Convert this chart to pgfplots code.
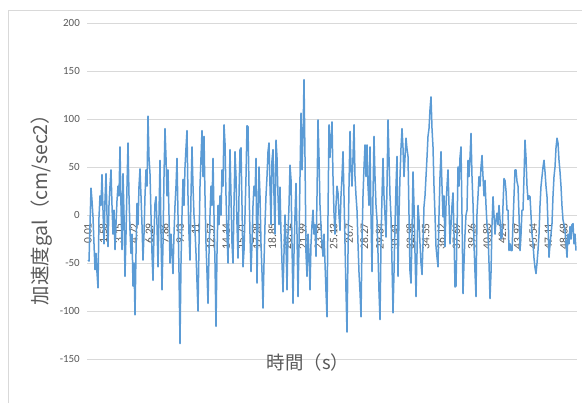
\documentclass[border=0pt]{standalone}
\usepackage{pgfplots}
\pgfplotsset{compat=1.18}
\usepackage{pgfplotstable}
\usepackage{fontspec}
\setmainfont{Carlito}
\newfontfamily\cjk{Noto Sans CJK JP}
\definecolor{exblue}{HTML}{5B9BD5}
\definecolor{lbl}{HTML}{595959}
\definecolor{grd}{HTML}{D9D9D9}
\pgfplotstableread{
y
-47
-48
-10
28
15
-2
-30
-57
-40
-60
-76
-2
20
10
42
5
-30
15
43
0
-33
10
30
47
10
-20
5
-36
-10
15
30
20
71
10
-36
43
0
-64
-20
30
75
20
-16
-40
-20
-74
-50
-104
-40
12
-10
30
48
20
-10
-47
-20
20
47
30
103
60
43
0
-40
-68
-20
12
19
-10
-54
0
57
-20
-78
-30
40
90
60
20
47
0
-50
-20
-40
-61
-20
10
30
59
0
-60
-134
-50
0
37
10
50
70
88
20
-20
-47
20
71
30
0
-16
-40
-70
-100
-30
30
60
88
40
82
20
-30
-60
-92
-40
0
30
10
59
0
-50
-116
-40
10
-10
20
0
47
30
94
75
20
-20
-50
10
68
20
-30
-50
10
66
40
-10
-45
20
68
70
10
-54
-37
0
40
93
92
30
-20
-59
-30
10
30
20
59
-71
0
50
20
-30
-60
-97
-50
-10
20
40
66
75
30
-10
57
68
20
-20
78
60
20
-10
29
-20
-50
-80
-40
0
-30
-78
-20
10
52
37
-30
-92
-40
0
33
-20
-85
-30
40
106
47
80
141
60
-40
-64
-20
-40
-78
-30
-10
5
-20
-10
-43
20
99
60
10
-12
-30
-43
-20
-50
-80
-106
0
94
60
80
97
40
2
-20
10
30
23
0
-16
20
40
66
20
-30
-80
-122
-40
30
87
50
30
60
94
40
20
5
-30
-60
-80
-106
-30
20
50
73
40
73
30
10
71
0
-59
20
82
40
10
-5
-40
-80
-109
-30
20
59
20
0
-23
30
99
60
20
-2
-50
-102
-60
-10
30
61
-64
0
40
70
90
70
40
60
80
69
61
0
-59
-71
-20
45
10
-40
-85
-40
10
-5
-30
-50
-62
-30
9
20
40
60
82
90
110
123
90
71
30
0
-33
-44
-54
0
40
66
30
-2
20
-33
10
30
47
10
-30
-10
10
23
-20
-75
-74
-20
50
30
60
71
0
-82
-50
-20
0
5
57
40
60
85
40
12
-30
-60
-85
2
20
40
30
50
62
40
20
36
10
-10
-19
-50
-87
-60
-10
19
0
-20
-5
2
-10
10
-5
-25
-23
10
38
36
25
5
5
-37
-30
-37
-37
-9
20
47
47
35
30
0
-37
-20
5
5
40
78
60
30
16
20
19
0
-20
-30
-45
-55
-61
-50
-37
-20
10
30
40
50
57
45
30
19
-10
-44
-30
-20
-9
20
40
50
70
80
75
57
45
30
9
-5
-10
-16
-30
-44
-20
-30
-12
-25
-10
-9
-30
-20
-37
}\accel
\begin{document}
\begin{tikzpicture}[x=1bp,y=1bp]
\path[use as bounding box] (0,0) rectangle (582,403);
\draw[grd, line width=0.8bp] (8,0) -- (8,393) -- (590,393);
\begin{axis}[
  at={(87bp,44bp)}, anchor=south west,
  scale only axis, width=490bp, height=336bp,
  xmin=-1, xmax=489, ymin=-150, ymax=200,
  axis x line=middle, axis y line=left,
  axis line style={draw=none},
  major tick length=0pt,
  ytick={-150,-100,-50,0,50,100,150,200},
  yticklabels={-150,-100,-50,0,50,100,150,200},
  yticklabel style={font=\fontsize{11}{13}\selectfont, text=lbl, inner sep=0pt, anchor=east, xshift=-7bp},
  xtick={0,15.35,30.7,46.05,61.4,76.75,92.1,107.45,122.8,138.15,153.5,168.85,184.2,199.55,214.9,230.25,245.6,260.95,276.3,291.65,307,322.35,337.7,353.05,368.4,383.75,399.1,414.45,429.8,445.15,460.5,475.85},
  xticklabels={0.01,1.58,3.15,4.72,6.29,7.86,9.43,11,12.57,14.14,15.71,17.28,18.85,20.42,21.99,23.56,25.13,26.7,28.27,29.84,31.41,32.98,34.55,36.12,37.69,39.26,40.83,42.4,43.97,45.54,47.11,48.68},
  xticklabel style={font=\fontsize{11.5}{13}\selectfont, text=lbl, rotate=90, anchor=east, inner sep=0pt},
  xticklabel shift=8bp,
  ymajorgrids, grid style={grd, line width=0.8bp},
  clip=false,
]
\addplot[exblue, line width=1.5bp, line join=round, no marks] table[x expr=\coordindex, y=y] {\accel};
\end{axis}
\node[rotate=90, text=lbl, font=\cjk\fontsize{19.5}{22}\selectfont] at (42,198) {加速度gal（cm/sec2）};
\node[text=lbl, font=\cjk\fontsize{18.5}{22}\selectfont] at (308,41) {時間（s）};
\end{tikzpicture}
\end{document}
